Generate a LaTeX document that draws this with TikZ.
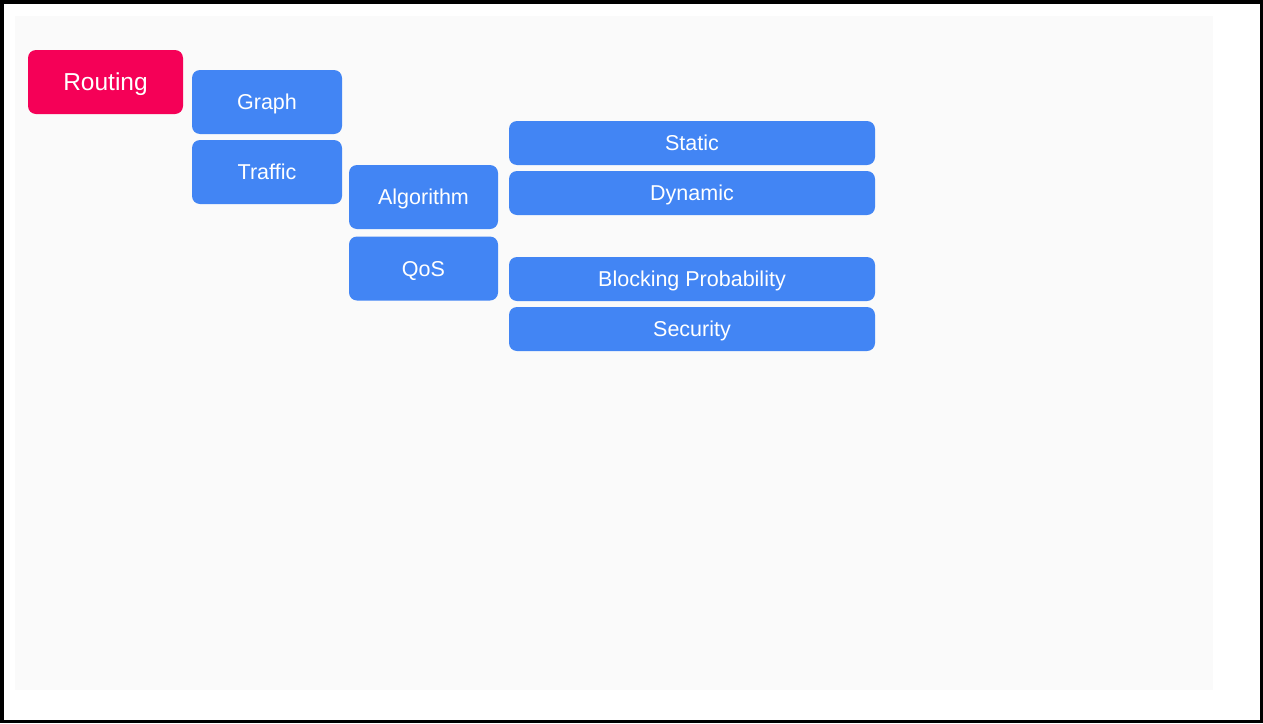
\documentclass[tikz,border=0pt]{standalone}
\usepackage{fontspec}
\setmainfont{Liberation Sans}
\usepackage{xcolor}
\definecolor{routingred}{RGB}{245, 0, 87}
\definecolor{topicblue}{RGB}{66, 133, 244}
\definecolor{panelgrey}{RGB}{250, 250, 250}
\usepackage{tikz}
\usetikzlibrary{positioning}

\tikzset{
    topic/.style={rectangle, rounded corners=8pt, fill=topicblue, text=white, inner sep=0pt,
        font=\fontsize{21.5}{26}\selectfont, text height=15.4pt, text depth=0pt},
    rootbox/.style={topic, fill=routingred, font=\fontsize{24.5}{29}\selectfont, text height=17.5pt},
}

\begin{document}
\begin{tikzpicture}[x=1pt, y=-1pt]
    \useasboundingbox (0,0) rectangle (1263,723);
    \fill[white] (0,0) rectangle (1263,723);
    \draw[line width=3.5pt] (1.75,1.75) rectangle (1261.25,721.25);
    \fill[panelgrey] (15,16) rectangle (1213,690);

    % root and first level
    \node[rootbox, minimum width=155pt, minimum height=64pt] (routing) at (105.5, 82) {Routing};
    \node[topic, minimum width=150pt, minimum height=64pt] (graph) at (267, 102) {Graph};
    \node[topic, minimum width=150pt, minimum height=64pt] (traffic) at (267, 172) {Traffic};

    % second level
    \node[topic, minimum width=149pt, minimum height=64pt] (algorithm) at (423.5, 197) {Algorithm};
    \node[topic, minimum width=149pt, minimum height=64pt] (qos) at (423.5, 268.5) {QoS};

    % leaves
    \node[topic, minimum width=366pt, minimum height=44pt] (static) at (692, 143) {Static};
    \node[topic, minimum width=366pt, minimum height=44pt] (dynamic) at (692, 193) {Dynamic};
    \node[topic, minimum width=366pt, minimum height=44pt] (blocking) at (692, 279) {Blocking Probability};
    \node[topic, minimum width=366pt, minimum height=44pt] (security) at (692, 329) {Security};
\end{tikzpicture}
\end{document}
